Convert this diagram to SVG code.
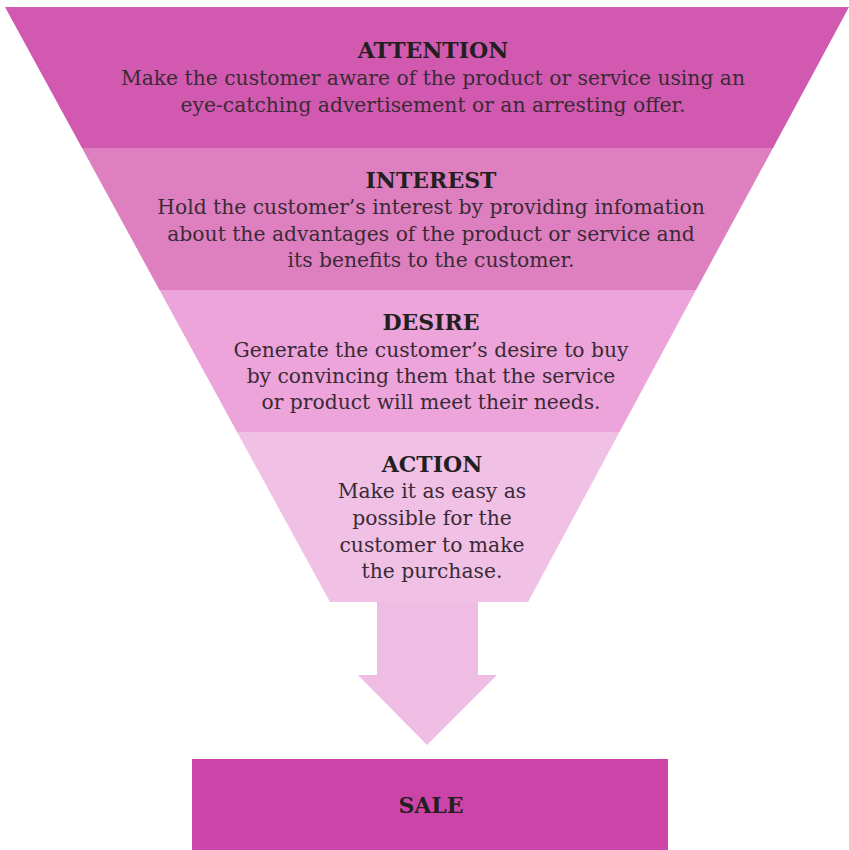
<svg xmlns="http://www.w3.org/2000/svg" width="849" height="850" viewBox="0 0 849 850">
<style>
.h{font-family:"DejaVu Serif","Liberation Serif",serif;font-weight:bold;font-size:22px;fill:#231f20;text-anchor:middle}
.b{font-family:"DejaVu Serif","Liberation Serif",serif;font-size:20.3px;fill:#3a2a35;text-anchor:middle}
</style>
<rect width="849" height="850" fill="#ffffff"/>
<g id="attention">
<polygon points="5,7 849,7 773,148 82,148" fill="#d259b0"/>
<text class="h" x="433" y="58">ATTENTION</text>
<text class="b" x="433" y="85">Make the customer aware of the product or service using an</text>
<text class="b" x="433" y="112">eye-catching advertisement or an arresting offer.</text>
</g>
<g id="interest">
<polygon points="82,148 773,148 696,290 159.5,290" fill="#de80c0"/>
<text class="h" x="431" y="188">INTEREST</text>
<text class="b" x="431" y="214">Hold the customer’s interest by providing infomation</text>
<text class="b" x="431" y="241">about the advantages of the product or service and</text>
<text class="b" x="431" y="267">its benefits to the customer.</text>
</g>
<g id="desire">
<polygon points="159.5,290 696,290 619.5,432 237,432" fill="#eca4da"/>
<text class="h" x="431" y="330">DESIRE</text>
<text class="b" x="431" y="357">Generate the customer’s desire to buy</text>
<text class="b" x="431" y="383">by convincing them that the service</text>
<text class="b" x="431" y="409">or product will meet their needs.</text>
</g>
<g id="action">
<polygon points="237,432 619.5,432 528,602 330,602" fill="#f0c0e5"/>
<text class="h" x="432" y="472">ACTION</text>
<text class="b" x="432" y="498">Make it as easy as</text>
<text class="b" x="432" y="525">possible for the</text>
<text class="b" x="432" y="552">customer to make</text>
<text class="b" x="432" y="578">the purchase.</text>
</g>
<g id="connectors">
<polygon points="377,602 478,602 478,675 497,675 427,745 358,675 377,675" fill="#efbce3"/>
</g>
<g id="sale">
<rect x="192" y="759" width="476" height="91" fill="#cc44a8"/>
<text class="h" x="431" y="813">SALE</text>
</g>
</svg>
